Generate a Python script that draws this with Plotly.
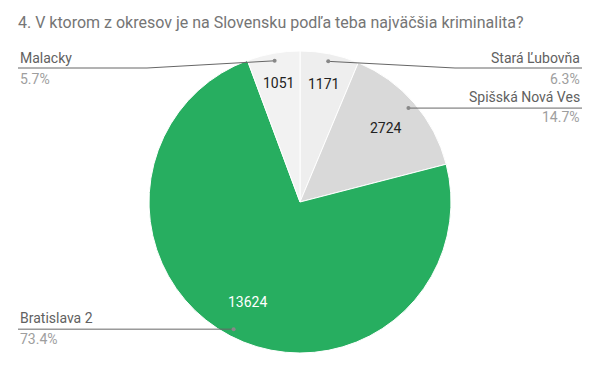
import math
import plotly.graph_objects as go

title = "4. V ktorom z okresov je na Slovensku podľa teba najväčšia kriminalita?"
districts = ["Stará Ľubovňa", "Spišská Nová Ves", "Bratislava 2", "Malacky"]
counts = [1171, 2724, 13624, 1051]
colors = ["#eeeeee", "#d9d9d9", "#27ae60", "#f2f2f2"]
value_colors = ["#222222", "#222222", "#ffffff", "#222222"]

W, H = 600, 371
cx, cy, R = 300, 202, 151

fig = go.Figure()
fig.add_trace(go.Pie(
    labels=districts,
    values=counts,
    sort=False,
    direction="clockwise",
    rotation=0,
    marker=dict(colors=colors, line=dict(color="#ffffff", width=1)),
    textinfo="none",
    hoverinfo="label+value+percent",
    domain=dict(x=[(cx - R) / W, (cx + R) / W], y=[1 - (cy + R) / H, 1 - (cy - R) / H]),
    showlegend=False,
))

# external labels with leader lines (layout of the labels)
total = sum(counts)
label_layout = {
    # name: (side, name_y, line_y, pct_y, elbow_x)
    "Stará Ľubovňa": ("right", 58, 68, 79, 455),
    "Spišská Nová Ves": ("right", 97, 107, 117, None),
    "Bratislava 2": ("left", 318, 328, 339, None),
    "Malacky": ("left", 58, 68, 79, 147),
}


def px(x, y):
    return f"{x / W:.5f},{1 - y / H:.5f}"


shapes = []
annotations = []
cum = 0
for name, v, vc in zip(districts, counts, value_colors):
    frac = v / total
    mid = (cum + frac / 2) * 2 * math.pi
    cum += frac
    # value label inside the slice
    rf = 0.8 if frac < 0.1 else 0.75
    tx = cx + rf * R * math.sin(mid)
    ty = cy - rf * R * math.cos(mid)
    annotations.append(dict(x=tx / W, y=1 - ty / H, xref="paper", yref="paper",
                            text=str(v), showarrow=False, xanchor="center", yanchor="middle",
                            font=dict(family="Roboto", size=14, color=vc)))
    # leader line
    dx = cx + 0.95 * R * math.sin(mid)
    dy = cy - 0.95 * R * math.cos(mid)
    side, ny, ly, py, ex = label_layout[name]
    end_x = 582 if side == "right" else 18
    if ex is None:
        path = f"M {px(dx, dy)} L {px(end_x, dy)}"
    else:
        path = f"M {px(dx, dy)} L {px(ex, ly)} L {px(end_x, ly)}"
    shapes.append(dict(type="path", xref="paper", yref="paper", path=path,
                       line=dict(color="#666666", width=1)))
    shapes.append(dict(type="circle", xref="paper", yref="paper",
                       x0=(dx - 2) / W, x1=(dx + 2) / W,
                       y0=1 - (dy + 2) / H, y1=1 - (dy - 2) / H,
                       fillcolor="#888888", line=dict(width=0)))
    anchor = "right" if side == "right" else "left"
    annotations.append(dict(x=end_x / W, y=1 - ny / H, xref="paper", yref="paper",
                            text=name, showarrow=False, xanchor=anchor, yanchor="middle",
                            font=dict(family="Roboto", size=14, color="#616161")))
    annotations.append(dict(x=end_x / W, y=1 - py / H, xref="paper", yref="paper",
                            text=f"{frac*100:.1f}%", showarrow=False, xanchor=anchor, yanchor="middle",
                            font=dict(family="Roboto", size=14, color="#9e9e9e")))

fig.update_layout(
    width=W, height=H,
    margin=dict(l=0, r=0, t=0, b=0),
    paper_bgcolor="#ffffff",
    plot_bgcolor="#ffffff",
    title=dict(text=title, x=18 / W, xanchor="left", y=1 - 22 / H, yanchor="middle",
               font=dict(family="Roboto", size=16, color="#757575")),
    shapes=shapes,
    annotations=annotations,
)

fig.write_html("out.html", config={"displayModeBar": False},
               post_script="document.body.style.margin='0';")
